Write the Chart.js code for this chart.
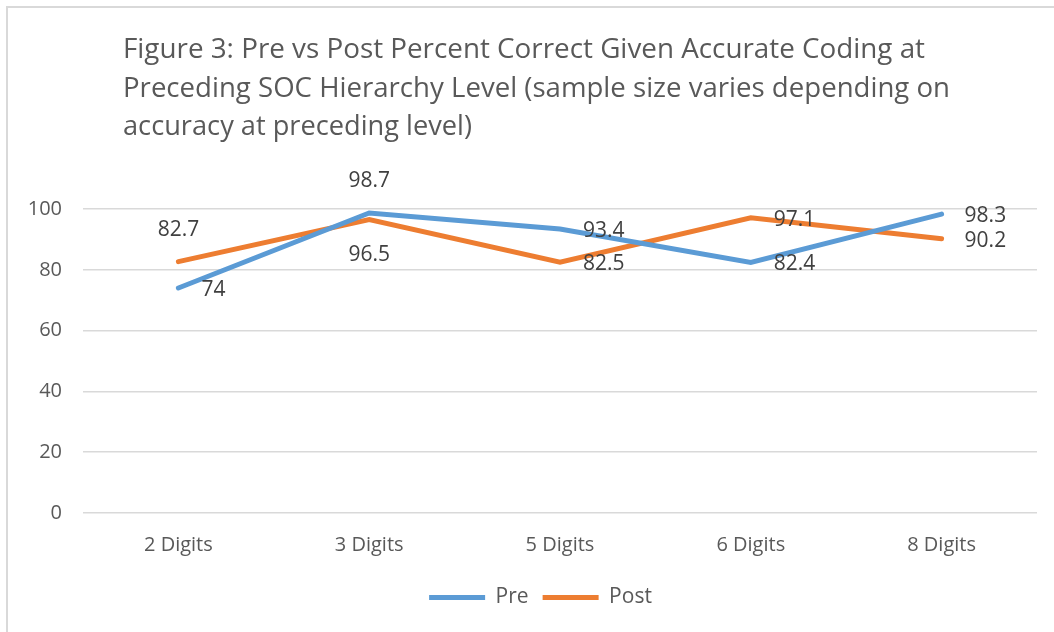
<!DOCTYPE html>
<html>
<head>
<meta charset="utf-8">
<script src="https://cdn.jsdelivr.net/npm/chart.js@4/dist/chart.umd.min.js"></script>
<style>
  html, body { margin: 0; padding: 0; background: #fff; overflow: hidden; }
  #wrap { position: relative; width: 1054px; height: 632px; }
  #frame { position: absolute; left: 6px; top: 6px; width: 1100px; height: 700px;
           border-left: 2px solid #d9d9d9; border-top: 2px solid #d9d9d9; pointer-events: none; }
  canvas { position: absolute; left: 0; top: 0; }
</style>
</head>
<body>
<div id="wrap">
  <canvas id="chart" width="1054" height="632"></canvas>
  <div id="frame"></div>
</div>
<script>
const categories = ['2 Digits', '3 Digits', '5 Digits', '6 Digits', '8 Digits'];
const preValues = [74, 98.7, 93.4, 82.4, 98.3];
const postValues = [82.7, 96.5, 82.5, 97.1, 90.2];
const titleLines = [
  'Figure 3: Pre vs Post Percent Correct Given Accurate Coding at',
  'Preceding SOC Hierarchy Level (sample size varies depending on',
  'accuracy at preceding level)'
];

// where each data label sits relative to its point
const preLabelPos = ['right', 'above', 'right', 'right', 'right'];
const postLabelPos = ['above', 'below', 'right', 'right', 'right'];

const FONT = "'Open Sans', 'Noto Sans', sans-serif";

const titlePlugin = {
  id: 'titleLines',
  afterDraw(chart) {
    const ctx = chart.ctx;
    const widths = [802, 827, 349];
    ctx.save();
    ctx.fillStyle = '#595959';
    ctx.font = '28px ' + FONT;
    ctx.textBaseline = 'alphabetic';
    ctx.textAlign = 'left';
    titleLines.forEach((line, i) => {
      ctx.fillText(line, 123, 58 + i * 38.5, widths[i]);
    });
    ctx.restore();
  }
};

const labelPlugin = {
  id: 'pointLabels',
  afterDatasetsDraw(chart) {
    const ctx = chart.ctx;
    ctx.save();
    ctx.font = '21px ' + FONT;
    ctx.fillStyle = '#404040';
    chart.data.datasets.forEach((ds, di) => {
      const meta = chart.getDatasetMeta(di);
      meta.data.forEach((pt, i) => {
        const pos = ds.labelPos[i];
        const text = String(ds.data[i]);
        ctx.textBaseline = 'middle';
        if (pos === 'right') {
          ctx.textAlign = 'left';
          ctx.fillText(text, pt.x + 23, pt.y + 2);
        } else if (pos === 'above') {
          ctx.textAlign = 'center';
          ctx.fillText(text, pt.x, pt.y - 32);
        } else {
          ctx.textAlign = 'center';
          ctx.fillText(text, pt.x, pt.y + 35);
        }
      });
    });
    ctx.restore();
  }
};

// nudge the legend so it is centred under the whole picture, like the original
const legendShift = {
  id: 'legendShift',
  afterLayout(chart) {
    if (chart.legend) {
      chart.legend.left += 22;
      chart.legend.right += 22;
    }
  }
};

new Chart(document.getElementById('chart'), {
  type: 'line',
  data: {
    labels: categories,
    datasets: [
      {
        label: 'Pre',
        data: preValues,
        labelPos: preLabelPos,
        borderColor: '#5b9bd5',
        backgroundColor: '#5b9bd5',
        borderWidth: 5,
        borderCapStyle: 'round',
        borderJoinStyle: 'miter',
        pointRadius: 0,
        tension: 0
      },
      {
        label: 'Post',
        data: postValues,
        labelPos: postLabelPos,
        borderColor: '#ed7d31',
        backgroundColor: '#ed7d31',
        borderWidth: 5,
        borderCapStyle: 'round',
        borderJoinStyle: 'miter',
        pointRadius: 0,
        tension: 0
      }
    ]
  },
  options: {
    responsive: false,
    animation: false,
    layout: { padding: { top: 209, right: 17, left: 0, bottom: 14 } },
    plugins: {
      title: { display: false },
      tooltip: { enabled: false },
      legend: {
        position: 'bottom',
        labels: {
          usePointStyle: true,
          pointStyle: 'line',
          pointStyleWidth: 56,
          color: '#595959',
          font: { family: FONT, size: 21 },
          padding: 14
        }
      }
    },
    scales: {
      x: {
        offset: true,
        grid: { display: false, drawTicks: false },
        border: { display: false },
        ticks: { color: '#595959', font: { family: FONT, size: 20 }, padding: 20 },
        afterFit(scale) { scale.height = 60; }
      },
      y: {
        min: 0,
        max: 100,
        grid: { color: '#d9d9d9', lineWidth: 1.5, drawTicks: false },
        border: { display: false },
        ticks: { stepSize: 20, color: '#595959', font: { family: FONT, size: 20 }, padding: 21 },
        afterFit(scale) { scale.width = 83; }
      }
    }
  },
  plugins: [titlePlugin, labelPlugin, legendShift]
});
</script>
</body>
</html>
